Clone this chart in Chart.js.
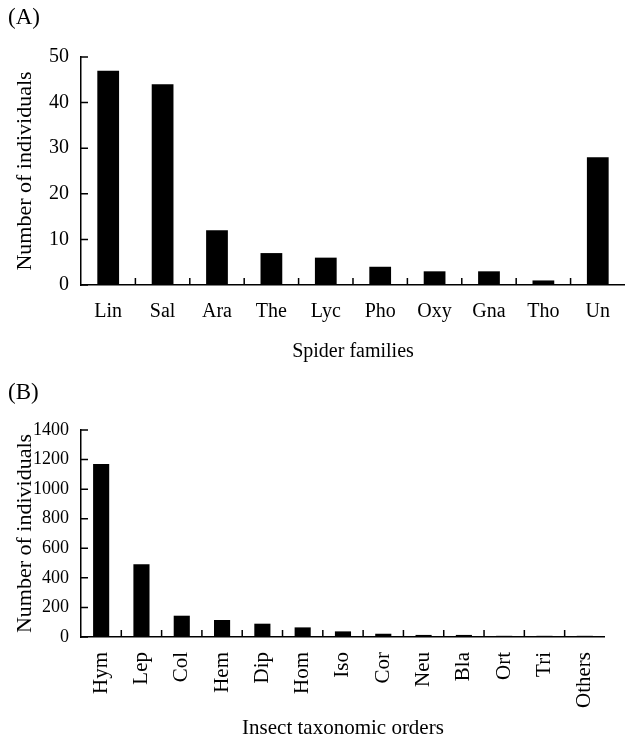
<!DOCTYPE html>
<html>
<head>
<meta charset="utf-8">
<script src="https://cdn.jsdelivr.net/npm/chart.js@4/dist/chart.umd.min.js"></script>
<style>
  body { margin: 0; background: #fff; }
  .panel { position: relative; width: 625px; }
  .tag {
    position: absolute;
    left: 8px;
    font-family: "Liberation Serif", "Times New Roman", serif;
    font-size: 23px;
    color: #000;
  }
</style>
</head>
<body>
<div class="panel" style="height:370px">
  <div class="tag" style="top:4px">(A)</div>
  <canvas id="chartA" width="625" height="370"></canvas>
</div>
<div class="panel" style="height:367px">
  <div class="tag" style="top:9px">(B)</div>
  <canvas id="chartB" width="625" height="367"></canvas>
</div>
<script>
// Spider data (panel A)
const spiderFamilies = ['Lin', 'Sal', 'Ara', 'The', 'Lyc', 'Pho', 'Oxy', 'Gna', 'Tho', 'Un'];
const spiderCounts = [47, 44, 12, 7, 6, 4, 3, 3, 1, 28];
const spiderTicks = [0, 10, 20, 30, 40, 50];

// Insect data (panel B)
const insectOrders = ['Hym', 'Lep', 'Col', 'Hem', 'Dip', 'Hom', 'Iso', 'Cor', 'Neu', 'Bla', 'Ort', 'Tri', 'Others'];
const insectCounts = [1170, 492, 144, 115, 90, 65, 38, 22, 14, 14, 8, 8, 8];
const insectTicks = [0, 200, 400, 600, 800, 1000, 1200, 1400];

const serif = '"Liberation Serif", "Times New Roman", serif';

// Draw small tick marks pointing into the plot area
const innerTicks = {
  id: 'innerTicks',
  afterDraw(chart, args, opts) {
    const ctx = chart.ctx;
    const area = chart.chartArea;
    const x = chart.scales.x;
    const y = chart.scales.y;
    ctx.save();
    ctx.strokeStyle = '#000';
    ctx.lineWidth = 1.5;
    ctx.beginPath();
    y.ticks.forEach((t, i) => {
      const py = y.getPixelForTick(i);
      ctx.moveTo(area.left, py);
      ctx.lineTo(area.left + opts.len, py);
    });
    // x ticks sit between categories
    for (let i = 1; i < x.ticks.length; i++) {
      const px = (x.getPixelForTick(i - 1) + x.getPixelForTick(i)) / 2;
      ctx.moveTo(px, area.bottom);
      ctx.lineTo(px, area.bottom - opts.len);
    }
    ctx.stroke();
    ctx.restore();
  }
};

function makeChart(canvasId, labels, values, tickValues, cfg) {
  return new Chart(document.getElementById(canvasId), {
    type: 'bar',
    data: {
      labels: labels,
      datasets: [{
        data: values,
        backgroundColor: '#000',
        borderWidth: 0,
        barPercentage: 0.4,
        categoryPercentage: 1.0,
      }],
    },
    options: {
      responsive: false,
      animation: false,
      layout: { padding: { top: cfg.top, left: 0, right: 0, bottom: 0 } },
      plugins: {
        legend: { display: false },
        tooltip: { enabled: false },
        innerTicks: { len: 7 },
      },
      scales: {
        x: {
          grid: { display: false, drawTicks: false },
          border: { color: '#000', width: 1.5 },
          ticks: {
            color: '#000',
            font: { family: serif, size: cfg.xFont },
            padding: cfg.xPad,
            autoSkip: false,
            maxRotation: cfg.rot,
            minRotation: cfg.rot,
          },
          title: {
            display: true,
            text: cfg.xTitle,
            color: '#000',
            font: { family: serif, size: cfg.xTitleFont, lineHeight: cfg.xTitleLh },
            padding: { top: 0, bottom: cfg.xTitlePad },
          },
          afterFit(scale) { scale.height = cfg.xHeight; },
        },
        y: {
          min: 0,
          max: tickValues[tickValues.length - 1],
          afterBuildTicks(scale) { scale.ticks = tickValues.map(v => ({ value: v })); },
          grid: { display: false, drawTicks: false },
          border: { color: '#000', width: 1.5 },
          ticks: {
            color: '#000',
            font: { family: serif, size: cfg.yFont },
            padding: 12,
            callback: v => String(v),
          },
          title: {
            display: true,
            text: 'Number of individuals',
            color: '#000',
            font: { family: serif, size: 22 },
            padding: { top: 12, bottom: 0 },
          },
          afterFit(scale) { scale.width = 81; },
        },
      },
    },
    plugins: [innerTicks],
  });
}

// Panel A - spider families
makeChart('chartA', spiderFamilies, spiderCounts, spiderTicks, {
  top: 57, xHeight: 85, xFont: 20, xPad: 15, rot: 0,
  xTitle: 'Spider families', xTitleFont: 20, xTitleLh: 1, xTitlePad: 8, yFont: 20,
});

// Panel B - insect orders
makeChart('chartB', insectOrders, insectCounts, insectTicks, {
  top: 60, xHeight: 100, xFont: 21, xPad: 15, rot: 90,
  xTitle: 'Insect taxonomic orders', xTitleFont: 21, xTitleLh: 0.8, xTitlePad: 0, yFont: 18,
});
</script>
</body>
</html>
